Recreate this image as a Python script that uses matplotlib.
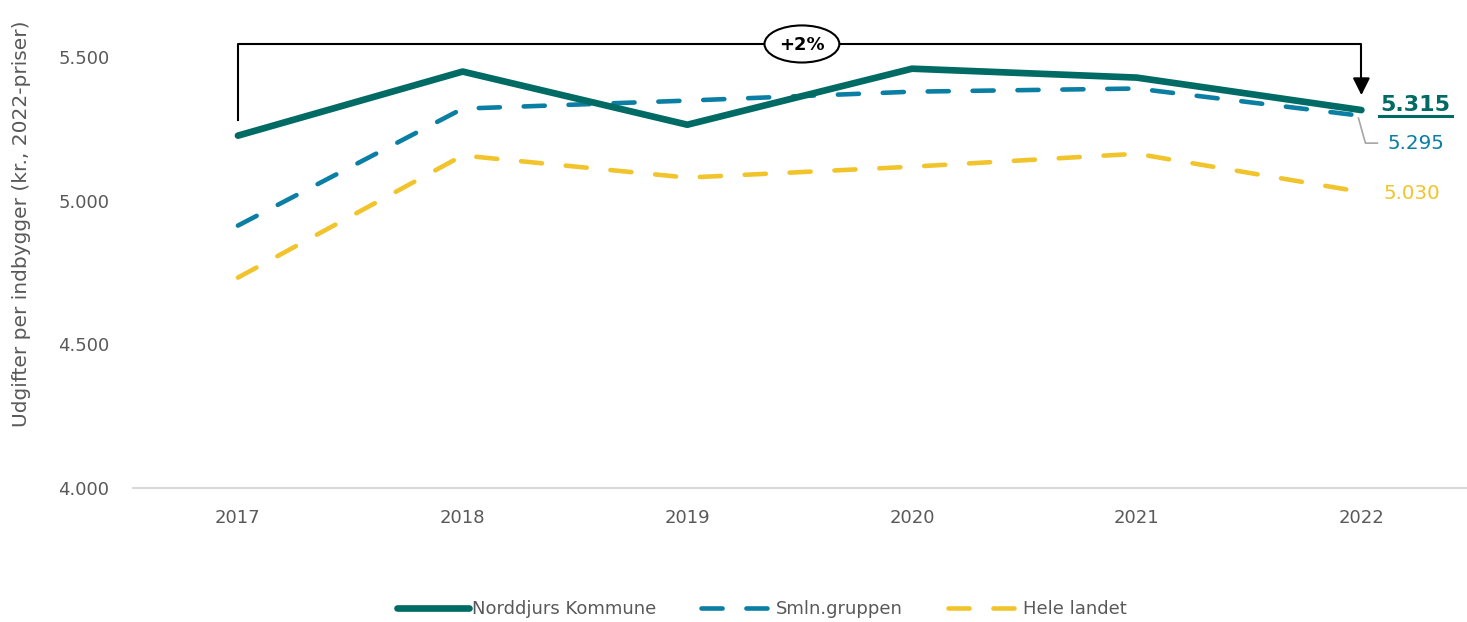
import numpy as np
import matplotlib
matplotlib.use("Agg")
import matplotlib.pyplot as plt
from matplotlib.patches import Ellipse

years = ["2017", "2018", "2019", "2020", "2021", "2022"]
norddjurs = [5226, 5449, 5264, 5459, 5428, 5315]
smln = [4913, 5320, 5348, 5379, 5390, 5295]
hele_landet = [4732, 5157, 5080, 5118, 5163, 5030]
series_names = ["Norddjurs Kommune", "Smln.gruppen", "Hele landet"]
change_label = "+2%"

c_nord = "#006b64"
c_smln = "#0a7fa3"
c_hele = "#f2c42c"
c_text = "#595959"

def fmt(v):
    return f"{v:,.0f}".replace(",", ".")

plt.rcParams["font.family"] = ["DejaVu Sans"]

fig = plt.figure(figsize=(14.67, 6.22), dpi=100)
ax = fig.add_axes([133 / 1467, 1 - 488 / 622, 1 - 133 / 1467, 488 / 622])
x = np.arange(len(years))

ax.plot(x, norddjurs, color=c_nord, lw=4.8, solid_capstyle="round", label=series_names[0], zorder=4)
ax.plot(x, smln, color=c_smln, lw=3.3, dashes=(4.6, 5.2), dash_capstyle="round", label=series_names[1], zorder=3)
ax.plot(x, hele_landet, color=c_hele, lw=3.3, dashes=(4.6, 5.2), dash_capstyle="round", label=series_names[2], zorder=2)

ax.set_xlim(-0.467, 5.47)
ax.set_ylim(4000, 5698)
ax.set_xticks(x)
ax.set_xticklabels(years)
ax.set_yticks([4000, 4500, 5000, 5500])
ax.set_yticklabels([fmt(v) for v in [4000, 4500, 5000, 5500]])
ax.tick_params(axis="both", length=0, labelsize=13, colors=c_text)
ax.tick_params(axis="y", pad=17)
ax.tick_params(axis="x", pad=15)
for s in ["top", "right", "left"]:
    ax.spines[s].set_visible(False)
ax.spines["bottom"].set_color("#d9d9d9")
ax.spines["bottom"].set_linewidth(1.5)

fig.text(22 / 1467, 1 - 224 / 622, "Udgifter per indbygger (kr., 2022-priser)",
         rotation=90, ha="center", va="center", fontsize=14.5, color=c_text)

# bracket with change annotation
top = 5545
y_start = norddjurs[0] + 54
y_end = norddjurs[-1] + 52
ax.plot([0, 0, 5, 5], [y_start, top, top, y_end + 30], color="black", lw=1.5, zorder=5, clip_on=False)
ax.annotate("", xy=(5, y_end), xytext=(5, y_end + 60),
            arrowprops=dict(arrowstyle="-|>", color="black", lw=1.5, mutation_scale=26,
                            shrinkA=0, shrinkB=0), zorder=5)
ax.add_patch(Ellipse((2.51, top), 0.333, 129, facecolor="white", edgecolor="black", lw=1.5, zorder=6))
ax.text(2.51, top - 3, change_label, ha="center", va="center", fontsize=13, fontweight="bold",
        color="black", zorder=7)

# end labels
ax.text(5.085, norddjurs[-1] + 18, fmt(norddjurs[-1]), color=c_nord, fontsize=16, fontweight="bold",
        ha="left", va="center", clip_on=False)
ax.plot([5.08, 5.405], [norddjurs[-1] - 21, norddjurs[-1] - 21], color=c_nord, lw=2.2, clip_on=False)
ax.plot([4.987, 5.018, 5.071], [smln[-1] - 8, smln[-1] - 95, smln[-1] - 95], color="#a6a6a6", lw=1.2)
ax.text(5.115, smln[-1] - 95, fmt(smln[-1]), color=c_smln, fontsize=14.3, ha="left", va="center", clip_on=False)
ax.text(5.098, hele_landet[-1] - 4, fmt(hele_landet[-1]), color=c_hele, fontsize=14.3, ha="left", va="center",
        clip_on=False)

leg = fig.legend(loc="center", bbox_to_anchor=(762 / 1467, 1 - 609 / 622), ncol=3, frameon=False,
                 fontsize=13, handlelength=4.0, handletextpad=0.15, columnspacing=2.5)
for txt in leg.get_texts():
    txt.set_color(c_text)

fig.savefig("out.png", dpi=100)
